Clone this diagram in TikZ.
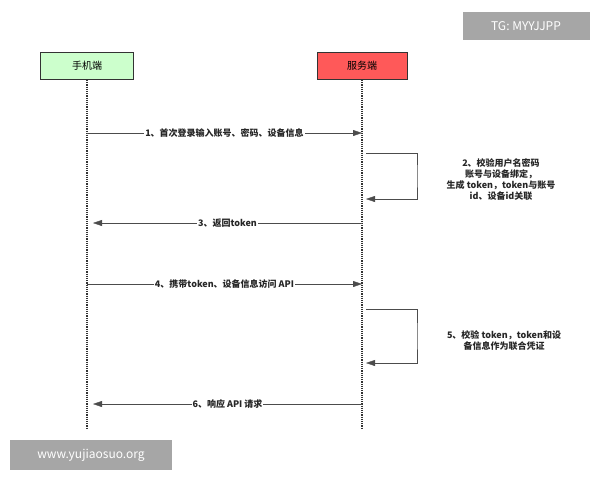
\documentclass[tikz,border=0pt]{standalone}
\usepackage{fontspec}
\setmainfont{Noto Sans CJK SC}
\usetikzlibrary{arrows.meta}

\tikzset{
  actor/.style={draw=black!80, thick, minimum width=93pt, minimum height=27pt, font=\normalsize},
  lifeline/.style={densely dotted, very thick, black!80},
  msg/.style={draw=black!70, -{Triangle[length=9pt,width=6pt]}},
  msglabel/.style={fill=white, inner sep=1pt, font=\small\bfseries, text=black!85},
  note/.style={font=\small\bfseries, align=center, text=black!85},
  wmark/.style={fill=black!35, text=white, inner sep=4pt, font=\large}
}

\begin{document}
\begin{tikzpicture}[x=1pt,y=-1pt]
  \useasboundingbox (0,0) rectangle (600,480);
  % actors
  \node[actor, fill=green!20] (phone) at (87,66) {手机端};
  \node[actor, fill=red!65, minimum width=90pt] (server) at (362,66) {服务端};
  % lifelines
  \coordinate (pend) at (87,428);
  \coordinate (send) at (362,428);
  \draw[lifeline] (phone) -- (pend);
  \draw[lifeline] (server) -- (send);
  % points on lifelines
  \foreach \n/\y in {1/133,3/223,4/284,6/404} {
    \coordinate (p\n) at (87,\y);
    \coordinate (s\n) at (362,\y);
  }
  \coordinate (a2) at (366,153);
  \coordinate (b2) at (366,199);
  \coordinate (a5) at (366,309);
  \coordinate (b5) at (366,363);
  % messages
  \draw[msg] (p1) -- node[msglabel] {1、首次登录输入账号、密码、设备信息} (s1);
  \draw[msg] (a2) -| (417,176) |- (b2);
  \node[note] (n2) at (501,180) {2、校验用户名密码\\账号与设备绑定，\\生成 token，token与账号\\id、设备id关联};
  \draw[msg] (s3) -- node[msglabel] {3、返回token} ([xshift=6pt]p3);
  \draw[msg] (p4) -- node[msglabel] {4、携带token、设备信息访问 API} (s4);
  \draw[msg] (a5) -| (417,336) |- (b5);
  \node[note] (n5) at (504,341) {5、校验 token，token和设\\备信息作为联合凭证};
  \draw[msg] (s6) -- node[msglabel] {6、响应 API 请求} ([xshift=6pt]p6);
  % watermarks
  \node[wmark, minimum width=127pt, minimum height=28pt] (tg) at (526,26) {TG: MYYJJPP};
  \node[wmark, minimum width=162pt, minimum height=30pt] (web) at (91,455) {www.yujiaosuo.org};
\end{tikzpicture}
\end{document}
